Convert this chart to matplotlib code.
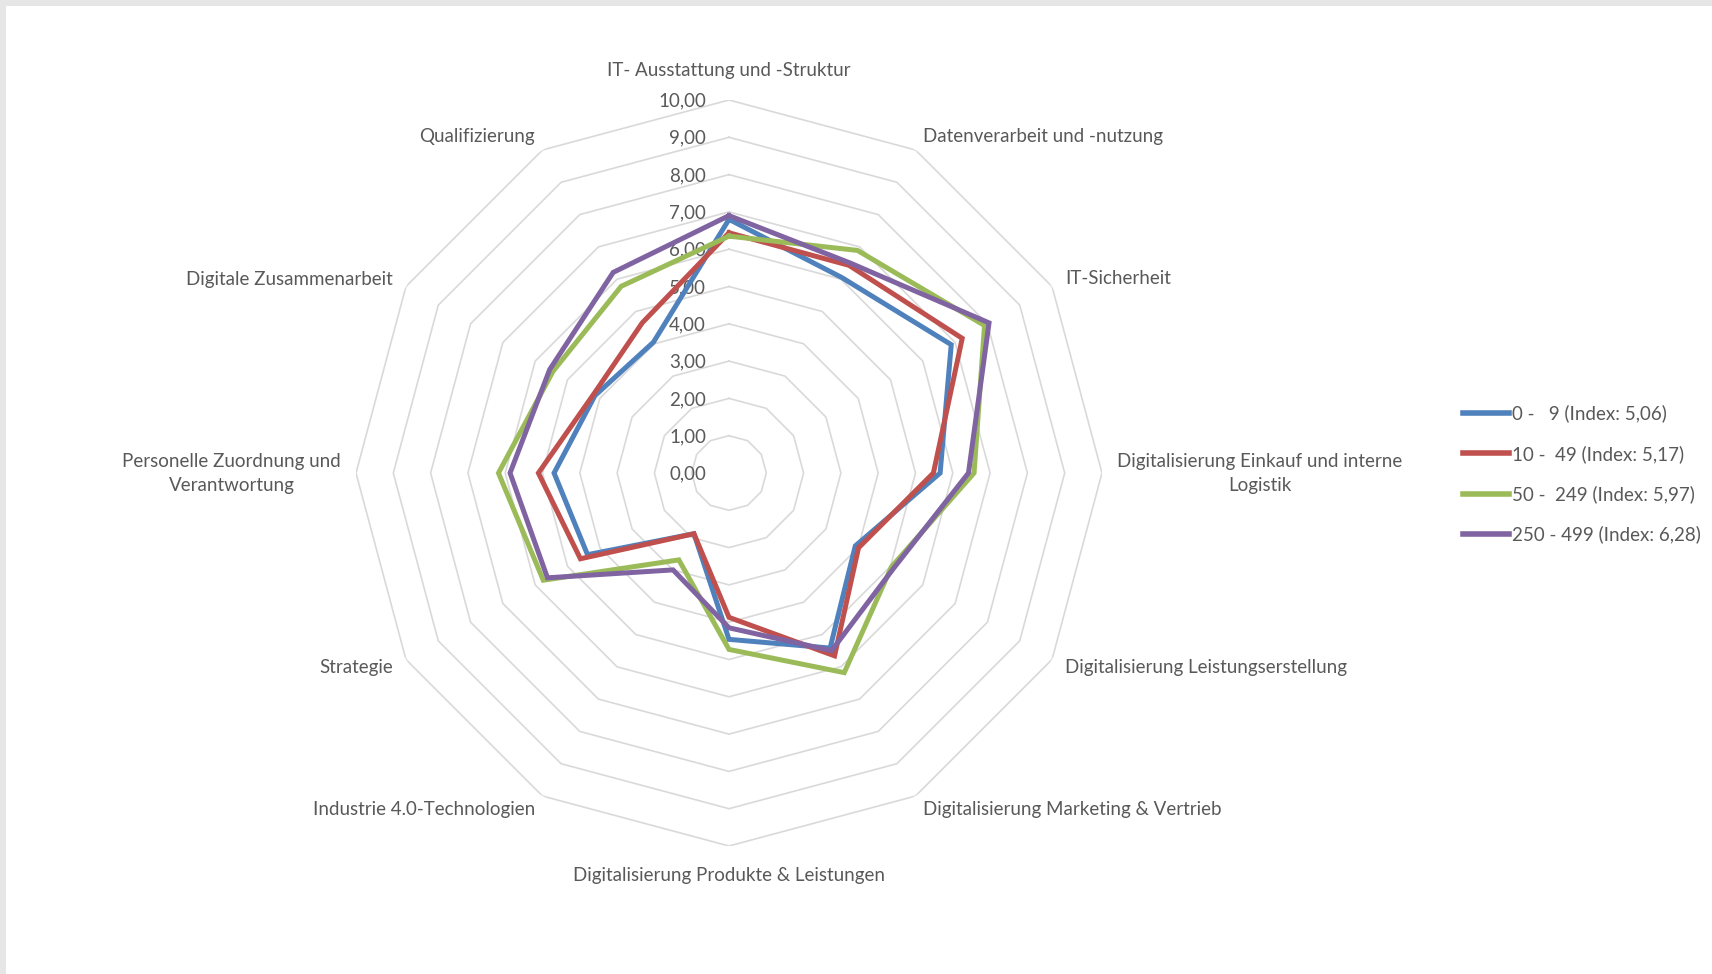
import numpy as np
import matplotlib
matplotlib.use("Agg")
import matplotlib.pyplot as plt
from matplotlib.patches import Rectangle
from matplotlib.transforms import offset_copy

# Kategorien (im Uhrzeigersinn ab oben)
categories = [
    "IT- Ausstattung und -Struktur",
    "Datenverarbeit und -nutzung",
    "IT-Sicherheit",
    "Digitalisierung Einkauf und interne\nLogistik",
    "Digitalisierung Leistungserstellung",
    "Digitalisierung Marketing & Vertrieb",
    "Digitalisierung Produkte & Leistungen",
    "Industrie 4.0-Technologien",
    "Strategie",
    "Personelle Zuordnung und\nVerantwortung",
    "Digitale Zusammenarbeit",
    "Qualifizierung",
]

# Werte je Unternehmensgroesse
size_0_9 = [6.80, 6.05, 6.88, 5.66, 3.91, 5.42, 4.46, 1.88, 4.38, 4.69, 4.15, 4.05]
size_10_49 = [6.44, 6.43, 7.22, 5.48, 4.01, 5.66, 3.87, 1.88, 4.60, 5.11, 4.20, 4.65]
size_50_249 = [6.35, 6.89, 7.91, 6.57, 5.03, 6.18, 4.73, 2.69, 5.75, 6.18, 5.45, 5.78]
size_250_499 = [6.90, 6.50, 8.05, 6.42, 5.10, 5.50, 4.15, 3.00, 5.62, 5.87, 5.55, 6.21]

series_labels = [
    "0 -   9 (Index: 5,06)",
    "10 -  49 (Index: 5,17)",
    "50 -  249 (Index: 5,97)",
    "250 - 499 (Index: 6,28)",
]
series_colors = ["#4f81bd", "#c0504d", "#9bbb59", "#8064a2"]

ring_values = list(range(0, 11))
ring_labels = ["%d,00" % v for v in ring_values]

plt.rcParams['font.family'] = ['Lato', 'DejaVu Sans']
text_color = "#595959"
fs = 13.5

fig = plt.figure(figsize=(17.12, 9.74), dpi=100)
fig.patch.set_facecolor("#e6e6e6")
# weisser Diagrammbereich (schmaler grauer Rand oben/links)
bg = Rectangle((6 / 1712, 0), 1 - 6 / 1712, 1 - 6 / 974,
               transform=fig.transFigure, facecolor="white",
               edgecolor="none", zorder=-10)
fig.patches.append(bg)

# Achse so platzieren, dass Mittelpunkt bei (729, 473) px liegt, Radius 373 px
ax = fig.add_axes([(729 - 373) / 1712, (974 - 473 - 373) / 974, 746 / 1712, 746 / 974],
                  projection="polar")
ax.set_zorder(1)
ax.set_facecolor("none")
ax.set_theta_zero_location("N")
ax.set_theta_direction(-1)
ax.set_ylim(0, 10)
ax.grid(False)
ax.spines["polar"].set_visible(False)
ax.set_xticks([])
ax.set_yticks([])

n = len(categories)
angles = np.arange(n) * 2 * np.pi / n
closed = np.concatenate([angles, angles[:1]])

# polygonale Gitterlinien
for r in ring_values[1:]:
    ax.plot(closed, [r] * (n + 1), color="#d9d9d9", lw=1.2, zorder=1)

# Skalenbeschriftung
for r, lab in zip(ring_values, ring_labels):
    tr = offset_copy(ax.transData, fig=fig, x=-23, y=-1, units="dots")
    ax.text(0, r, lab, transform=tr, ha="right", va="center",
            fontsize=fs, color=text_color, zorder=2)

# Datenreihen
all_series = [size_0_9, size_10_49, size_50_249, size_250_499]
for vals, lab, col in zip(all_series, series_labels, series_colors):
    v = list(vals) + [vals[0]]
    ax.plot(closed, v, color=col, lw=3.6, label=lab, zorder=3,
            solid_joinstyle="miter")

# Kategoriebeschriftungen
d = 15
for ang, cat in zip(angles, categories):
    s, c = np.sin(ang), np.cos(ang)
    if abs(s) < 1e-6:
        ha = "center"
        va = "bottom" if c > 0 else "top"
        ox, oy = 0, (21 if c > 0 else -21)
    else:
        ha = "left" if s > 0 else "right"
        va = "center"
        ox, oy = d * s, d * c
    tr = offset_copy(ax.transData, fig=fig, x=ox, y=oy, units="dots")
    ax.text(ang, 10, cat, transform=tr, ha=ha, va=va, fontsize=fs,
            color=text_color, multialignment="center", linespacing=1.5)

leg = fig.legend(loc="center left", bbox_to_anchor=(1446 / 1712, 1 - 474 / 974),
                 frameon=False, fontsize=fs, handlelength=2.45, handletextpad=0.15,
                 labelspacing=1.2, labelcolor=text_color)
for h in leg.get_lines():
    h.set_linewidth(4.0)

fig.savefig("out.png", dpi=100, facecolor=fig.get_facecolor())
